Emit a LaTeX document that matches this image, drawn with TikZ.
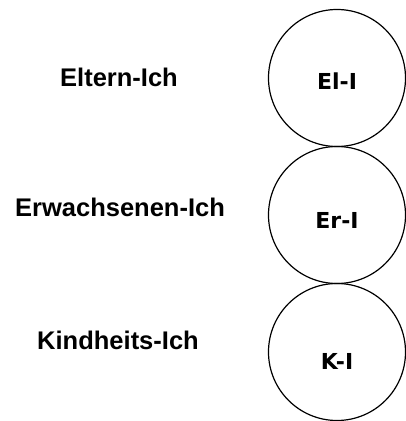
\documentclass[tikz,border=0pt]{standalone}
\usepackage{fontspec}
\setmainfont{Liberation Sans}
\newfontfamily\egofont{DejaVu Sans}
\begin{document}
\begin{tikzpicture}[x=1pt,y=1pt,
  ego/.style={draw=black,line width=1.2pt,circle,minimum size=137pt,inner sep=0pt},
  egotext/.style={font=\egofont\bfseries\fontsize{22}{26}\selectfont},
  lbl/.style={font=\bfseries\fontsize{25.5}{30}\selectfont}]
\useasboundingbox (0,0) rectangle (406,421);
\node[ego] (c1) at (337,343) {};
\node[ego] (c2) at (337,206) {};
\node[ego] (c3) at (337,69) {};
\node[egotext] (t1) at (337,340) {El-I};
\node[egotext] (t2) at (337,201) {Er-I};
\node[egotext] (t3) at (337,60) {K-I};
\node[lbl] (l1) at (119,344) {Eltern-Ich};
\node[lbl] (l2) at (120,214) {Erwachsenen-Ich};
\node[lbl] (l3) at (118,81) {Kindheits-Ich};
\end{tikzpicture}
\end{document}
